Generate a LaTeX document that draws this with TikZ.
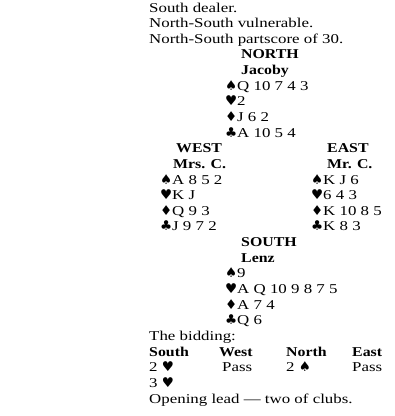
\documentclass[tikz,border=0pt]{standalone}
\usepackage{fontspec}
\setmainfont[FakeStretch=1.25, BoldFeatures={FakeStretch=1.175}]{Liberation Serif}
\newfontfamily\suitfont{DejaVu Sans}

\tikzset{
	txt/.style = {anchor = base west, inner sep = 0pt, font = \fontsize{13.5bp}{15.6bp}\selectfont},
	hd/.style = {txt, font = \fontsize{13.5bp}{15.6bp}\selectfont\bfseries},
	suit/.style = {txt, font = \fontsize{13.5bp}{15.6bp}\suitfont}
}

\begin{document}
\begin{tikzpicture}[x = 1bp, y = -1bp]
		\def\ls{15.64};
		\def\top{12};

		\useasboundingbox (0,0) rectangle (395,416);

		% deal
		\node[txt] (dealer) at (149,\top) {South dealer.};
		\node[txt] (vul) at (149,{\top+\ls}) {North-South vulnerable.};
		\node[txt] (part) at (149,{\top+2*\ls}) {North-South partscore of 30.};

		% north
		\node[hd] (north) at (241,{\top+3*\ls}) {NORTH};
		\node[hd] (jacoby) at (241,{\top+4*\ls}) {Jacoby};
		\foreach \s/\c [count = \i from 0] in {♠/Q 10 7 4 3, ♥/2, ♦/J 6 2, ♣/A 10 5 4}
		{
			\node[suit] (n-s\i) at (225,{\top+(5+\i)*\ls}) {\s};
			\node[txt] (n-c\i) at (237,{\top+(5+\i)*\ls}) {\c};
		}

		% west
		\node[hd] (west) at (176,{\top+9*\ls}) {WEST};
		\node[hd] (mrs) at (173,{\top+10*\ls}) {Mrs. C.};
		\foreach \s/\c [count = \i from 0] in {♠/A 8 5 2, ♥/K J, ♦/Q 9 3, ♣/J 9 7 2}
		{
			\node[suit] (w-s\i) at (160,{\top+(11+\i)*\ls}) {\s};
			\node[txt] (w-c\i) at (172,{\top+(11+\i)*\ls}) {\c};
		}

		% east
		\node[hd] (east) at (327,{\top+9*\ls}) {EAST};
		\node[hd] (mr) at (327,{\top+10*\ls}) {Mr. C.};
		\foreach \s/\c [count = \i from 0] in {♠/K J 6, ♥/6 4 3, ♦/K 10 8 5, ♣/K 8 3}
		{
			\node[suit] (e-s\i) at (311,{\top+(11+\i)*\ls}) {\s};
			\node[txt] (e-c\i) at (323,{\top+(11+\i)*\ls}) {\c};
		}

		% south
		\node[hd] (south) at (241,{\top+15*\ls}) {SOUTH};
		\node[hd] (lenz) at (241,{\top+16*\ls}) {Lenz};
		\foreach \s/\c [count = \i from 0] in {♠/9, ♥/A Q 10 9 8 7 5, ♦/A 7 4, ♣/Q 6}
		{
			\node[suit] (s-s\i) at (225,{\top+(17+\i)*\ls}) {\s};
			\node[txt] (s-c\i) at (237,{\top+(17+\i)*\ls}) {\c};
		}

		% bidding
		\node[txt] (bidding) at (149,{\top+21*\ls}) {The bidding:};
		\node[hd] (b-south) at (149,{\top+22*\ls}) {South};
		\node[hd] (b-west) at (219,{\top+22*\ls}) {West};
		\node[hd] (b-north) at (286,{\top+22*\ls}) {North};
		\node[hd] (b-east) at (352,{\top+22*\ls}) {East};
		\node[txt] (b1) at (149,{\top+23*\ls}) {2 {\suitfont ♥}};
		\node[txt] (b2) at (222,{\top+23*\ls}) {Pass};
		\node[txt] (b3) at (286,{\top+23*\ls}) {2 {\suitfont ♠}};
		\node[txt] (b4) at (352,{\top+23*\ls}) {Pass};
		\node[txt] (b5) at (149,{\top+24*\ls}) {3 {\suitfont ♥}};

		\node[txt] (lead) at (149,{\top+25*\ls}) {Opening lead --- two of clubs.};
	\end{tikzpicture}
\end{document}
